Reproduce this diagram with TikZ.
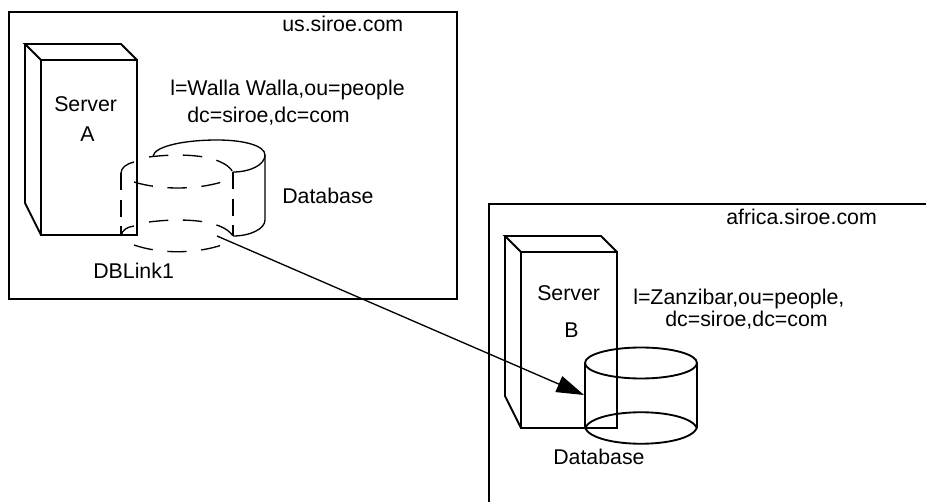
\documentclass[tikz,border=0pt]{standalone}
\usepackage{fontspec}
\setmainfont{Liberation Sans}
\usetikzlibrary{arrows.meta}
\tikzset{
  line/.style={draw=black,line width=1.4pt,line join=miter},
  thin line/.style={draw=black,line width=1pt},
  side dash/.style={draw=black,line width=1.2pt,dash pattern=on 13pt off 7pt},
  dash line/.style={draw=black,line width=1pt,dash pattern=on 14.5pt off 11pt},
  lbl/.style={inner sep=0pt,anchor=base west,font=\fontsize{16}{19}\selectfont},
}
\begin{document}
\begin{tikzpicture}[x=0.75pt,y=-0.75pt]
\useasboundingbox (0,0) rectangle (926,502);
% region boxes
\draw[line] (9,12) rectangle (457,299);
\draw[line] (926,204) -- (489,204) -- (489,502);
% server A
\draw[line] (41,60) rectangle (137,235);
\draw[line] (41,60) -- (25,44) -- (121,44) -- (137,60);
\draw[line] (25,44) -- (25,203) -- (41,235);
% server B
\draw[line] (521,252) rectangle (617,428);
\draw[line] (521,252) -- (505,236) -- (601,236) -- (617,252);
\draw[line] (505,236) -- (505,396) -- (521,428);
% database A (solid part)
\draw[thin line] (153,156) .. controls (155,146) and (185,140) .. (217,140) .. controls (245,140) and (265,146) .. (265,155) -- (265,220) .. controls (265,229) and (250,236) .. (233,236);
\draw[thin line] (233,172) .. controls (250,172) and (265,165) .. (265,155);
% DBLink cylinder (dashed)
\draw[dash line] (134,162) .. controls (126,164) and (121,168) .. (121,173);
\draw[side dash] (121,173) -- (121,236);
\draw[dash line] (149,157) .. controls (180,153) and (222,154) .. (233,172);
\draw[side dash] (233,172) -- (233,236);
\draw[dash line] (134,182) .. controls (160,190) and (195,190) .. (222,182);
\draw[dash line] (121,236) .. controls (122,230) and (127,227) .. (134,226);
\draw[dash line] (149,222) .. controls (180,218) and (222,219) .. (233,236);
\draw[dash line] (134,245) .. controls (160,254) and (195,254) .. (222,245);
% database B
\draw[line] (641,363) ellipse [x radius=56,y radius=15.5];
\draw[line] (585,363) -- (585,428);
\draw[line] (697,363) -- (697,428);
\draw[line] (585,428) .. controls (595,407) and (687,407) .. (697,428);
\draw[line] (585,428) .. controls (595,449) and (687,449) .. (697,428);
% connector
\coordinate (from) at (217,236);
\coordinate (to) at (584,395);
\draw[thin line,-{Triangle[length=20.6pt,width=12.8pt]}] (from) -- (to);
% labels
\node[lbl] (us) at (282,32) {us.siroe.com};
\node[lbl] (la) at (170,96) {l=Walla Walla,ou=people};
\node[lbl] (lb) at (187,123) {dc=siroe,dc=com};
\node[lbl] (sa) at (54,112) {Server};
\node[lbl] (aa) at (80,142) {A};
\node[lbl] (da) at (282,204) {Database};
\node[lbl] (dl) at (93,279) {DBLink1};
\node[lbl] (af) at (726,225) {africa.siroe.com};
\node[lbl] (sb) at (537,301) {Server};
\node[lbl] (bb) at (564,338) {B};
\node[lbl] (lc) at (633,305) {l=Zanzibar,ou=people,};
\node[lbl] (ld) at (665,327) {dc=siroe,dc=com};
\node[lbl] (db) at (553,465) {Database};
\end{tikzpicture}
\end{document}
